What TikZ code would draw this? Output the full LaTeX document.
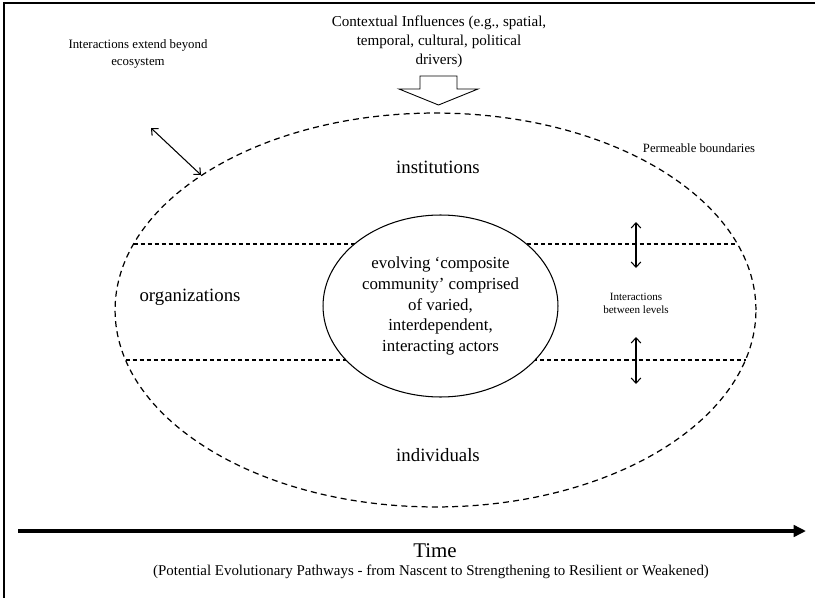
\documentclass[tikz,border=0pt]{standalone}
\usepackage{fontspec}
\setmainfont{Liberation Serif}
\usetikzlibrary{arrows.meta,shapes.geometric}
\begin{document}
\begin{tikzpicture}[x=0.02cm,y=-0.02cm]
\tikzstyle{level}=[font=\fontsize{10.7}{13}\selectfont]
\tikzstyle{note}=[align=center,inner sep=0pt,font=\fontsize{7.3}{9.4}\selectfont]
\tikzstyle{boundary}=[draw,dashed,dash pattern=on 3.4pt off 2.4pt,line width=0.7pt]
\tikzstyle{split}=[dash pattern=on 2.3pt off 1.7pt,line width=0.7pt]
\tikzstyle{twoway}=[{Straight Barb[length=3pt,width=5.5pt]}-{Straight Barb[length=3pt,width=5.5pt]},line width=0.6pt]
\useasboundingbox (0,0) rectangle (815,598);
\draw[line width=1.1pt] (4,598) -- (4,3) -- (815,3);
\node [ellipse,boundary,minimum width=12.82cm,minimum height=7.88cm] (eco) at (435.5,310) {};
\draw[split] (133.5,244) -- (737.5,244);
\draw[split] (125.5,360) -- (745.5,360);
\node [ellipse,draw,fill=white,line width=0.6pt,inner sep=0pt,minimum width=4.7cm,minimum height=3.64cm,align=center,font=\fontsize{9.6}{11.7}\selectfont] (core) at (440.5,306) {evolving `composite\\ community' comprised\\ of varied,\\ interdependent,\\ interacting actors};
\node [level] (inst) at (438,167) {institutions};
\node [level] (org) at (190,297) {organizations};
\node [level] (indiv) at (438,455) {individuals};
\node [note,font=\fontsize{8.6}{10.8}\selectfont] (ctx) at (439,42) {Contextual Influences (e.g., spatial,\\ temporal, cultural, political\\ drivers)};
\draw[line width=0.5pt] (420,76) -- (457,76) -- (457,89) -- (478,89) -- (438.5,105) -- (399,89) -- (420,89) -- cycle;
\node [note] (beyond) at (138,54) {Interactions extend beyond\\ ecosystem};
\coordinate (out) at (151,128);
\coordinate (rim) at (201,175);
\draw[twoway] (out) -- (rim);
\node [note,font=\fontsize{7.2}{8.5}\selectfont] (perm) at (699,148) {Permeable boundaries};
\node [note,font=\fontsize{6.3}{7.4}\selectfont] (between) at (636,303) {Interactions\\ between levels};
\coordinate (up1) at (636,222);
\coordinate (up2) at (636,268);
\coordinate (lo1) at (636,337);
\coordinate (lo2) at (636,384);
\draw[twoway] (up1) -- (up2);
\draw[twoway] (lo1) -- (lo2);
\coordinate (start) at (18,531);
\coordinate (end) at (806,531);
\draw[line width=1.8pt,-{Triangle[length=7pt,width=6.5pt]}] (start) -- (end);
\node [font=\fontsize{11.9}{14}\selectfont] (time) at (435,551) {Time};
\node [font=\fontsize{8.5}{10}\selectfont] (paths) at (431,572) {(Potential Evolutionary Pathways - from Nascent to Strengthening to Resilient or Weakened)};
\end{tikzpicture}
\end{document}
